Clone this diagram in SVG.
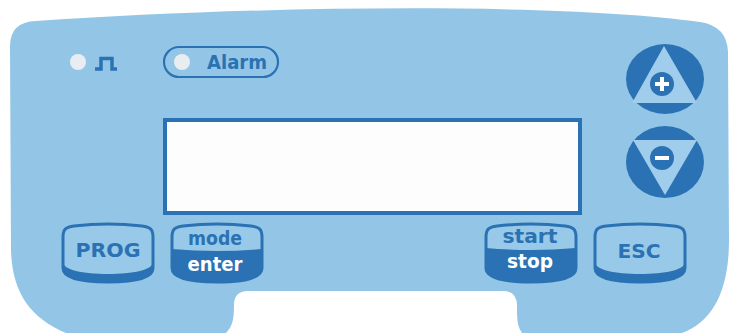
<svg xmlns="http://www.w3.org/2000/svg" width="731" height="333" viewBox="0 0 731 333">
<style>
.dk{fill:#2b72b4}
.ln{fill:none;stroke:#2b72b4}
.led{fill:#e8edf1}
.tx{font-family:"DejaVu Sans",sans-serif;font-weight:bold;text-anchor:middle}
.key{fill:#98c9e8;stroke:#2b72b4;stroke-width:3}
</style>
<rect width="731" height="333" fill="#ffffff"/>
<g id="panel">
<path d="M10 46 Q10 22 36 21 C250 6 560 2 700 22 Q727 26 728 52 L729 240 C729 292 712 322 682 333 L522 333 C517 326 517 318 517 306 Q517 291 503 291 L248 291 Q234 291 234 305 C234 318 233 326 226 333 L66 333 C30 318 12 292 11 250 Z" fill="#93c6e6"/>
</g>
<g id="display">
<rect x="165" y="120" width="415" height="93" fill="#fdfdfd" stroke="#2b72b4" stroke-width="4"/>
</g>
<g id="led-pulse">
<circle class="led" cx="78" cy="62" r="8"/>
<path class="ln" stroke-width="3.5" d="M95 69 H101 V58.5 H112 V69 H117"/>
</g>
<g id="alarm">
<rect class="ln" x="164" y="47" width="114" height="30" rx="15" stroke-width="2.2"/>
<circle class="led" cx="182" cy="62" r="8"/>
<text class="tx dk" x="237" y="69" font-size="19" textLength="60" lengthAdjust="spacingAndGlyphs">Alarm</text>
</g>
<g id="btn-up">
<ellipse class="dk" cx="665" cy="79" rx="39" ry="35"/>
<polygon points="664,46 632,103 697,103" fill="#a0cdec"/>
<circle class="dk" cx="662" cy="84" r="12"/>
<path d="M662 77 V91 M655 84 H669" stroke="#ffffff" stroke-width="4"/>
</g>
<g id="btn-down">
<ellipse class="dk" cx="665" cy="162" rx="39" ry="36"/>
<polygon points="633,140 697,140 665,195" fill="#a0cdec"/>
<circle class="dk" cx="662" cy="158" r="12"/>
<path d="M655 158 H669" stroke="#ffffff" stroke-width="4"/>
</g>
<g id="btn-prog">
<path class="key" d="M63 237 C63 229 66 227 74 226 Q108 222 142 226 C150 227 153 229 153 237 L153 268 C153 278 133 282 108 282 C83 282 63 278 63 268 Z"/>
<path class="dk" d="M63 262 C63 270 83 274 108 274 C133 274 153 270 153 262 L153 268 C153 278 133 282 108 282 C83 282 63 278 63 268 Z"/>
<text class="tx dk" x="108" y="257" font-size="20" textLength="65" lengthAdjust="spacingAndGlyphs">PROG</text>
</g>
<g id="btn-mode">
<path class="key" d="M172 237 C172 229 175 227 183 226 Q217 222 251 226 C259 227 262 229 262 237 L262 268 C262 278 242 282 217 282 C192 282 172 278 172 268 Z"/>
<path class="dk" d="M172 249 Q217 253 262 249 L262 268 C262 278 242 282 217 282 C192 282 172 278 172 268 Z"/>
<text class="tx dk" x="215" y="245" font-size="19" textLength="54" lengthAdjust="spacingAndGlyphs">mode</text>
<text class="tx" x="215" y="271" font-size="19" fill="#ffffff" textLength="55" lengthAdjust="spacingAndGlyphs">enter</text>
</g>
<g id="btn-start">
<path class="key" d="M486 237 C486 229 489 227 497 226 Q531 222 565 226 C573 227 576 229 576 237 L576 268 C576 278 556 282 531 282 C506 282 486 278 486 268 Z"/>
<path class="dk" d="M486 248 Q531 252 576 248 L576 268 C576 278 556 282 531 282 C506 282 486 278 486 268 Z"/>
<text class="tx dk" x="530" y="243" font-size="19" textLength="55" lengthAdjust="spacingAndGlyphs">start</text>
<text class="tx" x="530" y="268" font-size="19" fill="#ffffff" textLength="46" lengthAdjust="spacingAndGlyphs">stop</text>
</g>
<g id="btn-esc">
<path class="key" d="M595 237 C595 229 598 227 606 226 Q640 222 674 226 C682 227 685 229 685 237 L685 268 C685 278 665 282 640 282 C615 282 595 278 595 268 Z"/>
<path class="dk" d="M595 262 C595 270 615 274 640 274 C665 274 685 270 685 262 L685 268 C685 278 665 282 640 282 C615 282 595 278 595 268 Z"/>
<text class="tx dk" x="639" y="258" font-size="20" textLength="43" lengthAdjust="spacingAndGlyphs">ESC</text>
</g>
<g id="connectors"/>
</svg>
